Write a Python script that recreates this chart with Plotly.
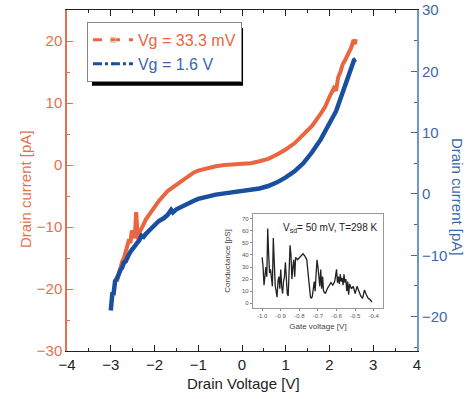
import plotly.graph_objects as go

# ---- main data: Vg = 33.3 mV (left axis) ----
red_v = [-2.86, -2.82, -2.78, -2.74, -2.70, -2.66, -2.62, -2.58, -2.55, -2.52, -2.48, -2.45,
         -2.42, -2.40, -2.38, -2.35, -2.30, -2.25, -2.20, -2.10, -2.00, -1.90, -1.80, -1.70,
         -1.60, -1.50, -1.40, -1.30, -1.20, -1.10, -1.00, -0.80, -0.60, -0.40, -0.20, 0.00,
         0.20, 0.40, 0.60, 0.80, 1.00, 1.20, 1.40, 1.60, 1.80, 1.90, 2.00, 2.10, 2.15, 2.20,
         2.25, 2.30, 2.35, 2.40, 2.45, 2.50, 2.55, 2.58, 2.60]
red_i = [-18.8, -17.5, -16.8, -15.6, -15.0, -14.0, -13.2, -12.0, -12.6, -10.6, -11.2, -11.8,
         -7.6, -9.0, -12.0, -11.0, -10.4, -9.6, -8.8, -7.7, -6.8, -5.8, -5.0, -4.2,
         -3.7, -3.2, -2.6, -2.1, -1.6, -1.2, -0.9, -0.5, -0.2, 0.0, 0.1, 0.2,
         0.3, 0.6, 1.0, 1.7, 2.5, 3.5, 4.8, 6.3, 8.3, 9.4, 11.0, 12.4, 12.0, 14.2,
         15.0, 16.2, 16.8, 17.5, 18.4, 19.0, 20.2, 19.5, 20.3]

# ---- main data: Vg = 1.6 V (right axis) ----
blue_v = [-3.00, -2.98, -2.96, -2.94, -2.92, -2.90, -2.86, -2.82, -2.78, -2.74, -2.70, -2.66,
          -2.62, -2.58, -2.54, -2.50, -2.45, -2.40, -2.35, -2.30, -2.25, -2.20, -2.10, -2.00,
          -1.90, -1.80, -1.70, -1.62, -1.58, -1.50, -1.40, -1.30, -1.20, -1.10, -1.00, -0.80,
          -0.60, -0.40, -0.20, 0.00, 0.20, 0.40, 0.60, 0.80, 1.00, 1.20, 1.40, 1.60, 1.80,
          2.00, 2.10, 2.15, 2.20, 2.30, 2.40, 2.50, 2.56, 2.60]
blue_i = [-19.0, -17.5, -16.0, -16.5, -15.0, -14.2, -13.8, -13.0, -12.4, -12.0, -11.2, -11.0,
          -10.2, -9.8, -9.3, -8.8, -8.5, -8.0, -7.6, -6.8, -7.0, -6.5, -5.8, -5.0,
          -4.4, -4.0, -3.4, -2.6, -3.0, -2.5, -2.1, -1.7, -1.4, -1.1, -0.8, -0.4,
          -0.1, 0.1, 0.3, 0.4, 0.6, 0.9, 1.3, 1.9, 2.7, 3.7, 5.0, 6.8, 8.9,
          11.4, 12.6, 13.5, 14.5, 16.5, 18.3, 20.3, 21.8, 22.0]

# ---- inset data: conductance vs gate voltage ----
gate_v = [-1.000, -0.995, -0.990, -0.985, -0.980, -0.975, -0.970, -0.965, -0.960, -0.955,
          -0.950, -0.945, -0.940, -0.935, -0.930, -0.925, -0.920, -0.915, -0.910, -0.905,
          -0.900, -0.895, -0.890, -0.885, -0.880, -0.875, -0.870, -0.865, -0.860, -0.855,
          -0.850, -0.845, -0.840, -0.835, -0.830, -0.825, -0.820, -0.810, -0.800, -0.790,
          -0.780, -0.770, -0.760, -0.750, -0.745, -0.740, -0.735, -0.730, -0.720, -0.715,
          -0.710, -0.705, -0.700, -0.695, -0.690, -0.685, -0.680, -0.675, -0.670, -0.665,
          -0.660, -0.650, -0.640, -0.630, -0.620, -0.610, -0.600, -0.595, -0.590, -0.585,
          -0.580, -0.575, -0.570, -0.565, -0.560, -0.555, -0.550, -0.545, -0.540, -0.535,
          -0.530, -0.520, -0.510, -0.500, -0.490, -0.480, -0.470, -0.460, -0.450, -0.440,
          -0.430, -0.420, -0.410]
conductance = [38, 30, 15, 25, 30, 22, 62, 40, 25, 28,
               18, 14, 54, 30, 15, 10, 5, 18, 22, 12,
               28, 14, 8, 18, 22, 34, 20, 8, 6, 25,
               48, 40, 20, 30, 36, 22, 38, 36, 38, 40,
               41, 39, 36, 20, 8, 5, 4, 6, 18, 10,
               24, 36, 30, 22, 14, 28, 12, 22, 10, 9,
               8, 12, 14, 17, 15, 18, 28, 17, 22, 16,
               24, 18, 21, 15, 24, 17, 20, 10, 18, 7,
               16, 12, 14, 8, 14, 9, 6, 4, 11, 7,
               4, 3, 1]

x_ticks = [-4, -3, -2, -1, 0, 1, 2, 3, 4]
inset_x_ticks = [-1.0, -0.9, -0.8, -0.7, -0.6, -0.5, -0.4]
inset_x_labels = ["-1.0", "-0.9", "-0.8", "-0.7", "-0.6", "-0.5", "-0.4"]

RED = "#EA6540"
RED_TXT = "#E4704E"
BLUE = "#1A4FA0"
BLUE_TXT = "#3B68A8"
FONT = "Liberation Sans"

fig = go.Figure()

# data traces
fig.add_trace(go.Scatter(x=red_v, y=red_i, mode="lines", showlegend=False,
                         line=dict(color=RED, width=4),
                         xaxis="x", yaxis="y"))
fig.add_trace(go.Scatter(x=blue_v, y=blue_i, mode="lines", showlegend=False,
                         line=dict(color=BLUE, width=4.5),
                         xaxis="x", yaxis="y2"))

# legend entries
fig.add_trace(go.Scatter(x=[None], y=[None], mode="lines+markers",
                         name='<span style="color:%s">Vg = 33.3 mV</span>' % RED,
                         line=dict(color=RED, width=3, dash="dash"),
                         marker=dict(symbol="square-open", size=5, color="#F4B8A0"),
                         xaxis="x", yaxis="y"))
fig.add_trace(go.Scatter(x=[None], y=[None], mode="lines+markers",
                         name='<span style="color:%s">Vg = 1.6 V</span>' % BLUE_TXT,
                         line=dict(color=BLUE, width=3, dash="dashdot"),
                         marker=dict(symbol="circle", size=3, color=BLUE),
                         xaxis="x", yaxis="y2"))

# inset
fig.add_trace(go.Scatter(x=gate_v, y=conductance, mode="lines", showlegend=False,
                         line=dict(color="#222222", width=1.3),
                         xaxis="x3", yaxis="y3"))

fig.update_layout(
    width=472, height=399,
    margin=dict(l=67, r=55, t=10, b=48, autoexpand=False),
    paper_bgcolor="white", plot_bgcolor="white",
    font=dict(family=FONT, size=15, color="#222222"),
    xaxis=dict(range=[-4, 4], tickvals=x_ticks, ticks="inside", ticklen=6, tickwidth=1,
               tickcolor="#222222", showgrid=False, zeroline=False, automargin=False,
               showline=True, linecolor="#222222", linewidth=1.2, mirror="ticks",
               minor=dict(dtick=0.5, ticks="inside", ticklen=3, tickcolor="#222222"),
               tickfont=dict(size=15, color="#222222")),
    yaxis=dict(range=[-30, 25], dtick=10, ticks="inside", ticklen=6, tickcolor=RED_TXT,
               showgrid=False, zeroline=False, showline=True, linecolor=RED_TXT, linewidth=1.5,
               automargin=False,
               minor=dict(dtick=5, ticks="inside", ticklen=3, tickcolor=RED_TXT),
               tickfont=dict(size=15, color=RED_TXT)),
    yaxis2=dict(range=[-25.6, 30], dtick=10, ticks="inside", ticklen=6, tickcolor=BLUE_TXT,
                overlaying="y", side="right", showgrid=False, zeroline=False,
                showline=True, linecolor="#6E97CC", linewidth=2, automargin=False,
                minor=dict(dtick=5, ticks="inside", ticklen=3, tickcolor=BLUE_TXT),
                tickfont=dict(size=15, color=BLUE_TXT)),
    xaxis3=dict(domain=[0.531, 0.903], anchor="y3", range=[-1.05, -0.35],
                tickvals=inset_x_ticks, ticktext=inset_x_labels, ticks="outside", ticklen=2,
                tickcolor="#888888", showgrid=False, zeroline=False, automargin=False,
                showline=True, linecolor="#999999", linewidth=1, mirror=True,
                tickfont=dict(size=6, color="#555555"),
                title=dict(text="Gate voltage [V]", font=dict(size=8, color="#444444"), standoff=5)),
    yaxis3=dict(domain=[0.126, 0.402], anchor="x3", range=[-4, 74], dtick=10,
                ticks="outside", ticklen=2, tickcolor="#888888", showgrid=False, zeroline=False,
                showline=True, linecolor="#999999", linewidth=1, mirror=True, automargin=False,
                tickfont=dict(size=6, color="#555555"),
                title=dict(text="Conductance [pS]", font=dict(size=8, color="#444444"), standoff=10)),
    legend=dict(x=0.057, y=0.965, xanchor="left", yanchor="top",
                bgcolor="white", bordercolor="#888888", borderwidth=1,
                font=dict(size=16, family=FONT), itemwidth=40, tracegroupgap=0),
    showlegend=True,
)

# legend shadow (offset black box behind the legend)
fig.add_shape(type="rect", xref="paper", yref="paper", x0=0.0714, x1=0.503, y0=0.778, y1=0.947,
              fillcolor="black", line=dict(width=0), layer="above")

annotations = [
    dict(text="Drain current [pA]", x=25, y=189, textangle=-90, color=RED_TXT),
    dict(text="Drain current [pA]", x=457, y=197, textangle=90, color=BLUE_TXT),
    dict(text="Drain Voltage [V]", x=243, y=384, textangle=0, color="#222222"),
]
for a in annotations:
    fig.add_annotation(text=a["text"], xref="paper", yref="paper",
                       x=(a["x"] - 67) / 350, y=(351 - a["y"]) / 341,
                       xanchor="center", yanchor="middle", showarrow=False,
                       textangle=a["textangle"], font=dict(size=15, color=a["color"], family=FONT))

fig.add_annotation(text="V<sub>sd</sub>= 50 mV, T=298 K", xref="x3", yref="y3",
                   x=-0.37, y=62, xanchor="right", yanchor="middle", showarrow=False,
                   font=dict(size=10, color="#222222", family=FONT))

fig.write_html("out.html", config={"displayModeBar": False},
               post_script="document.body.style.margin='0';")
